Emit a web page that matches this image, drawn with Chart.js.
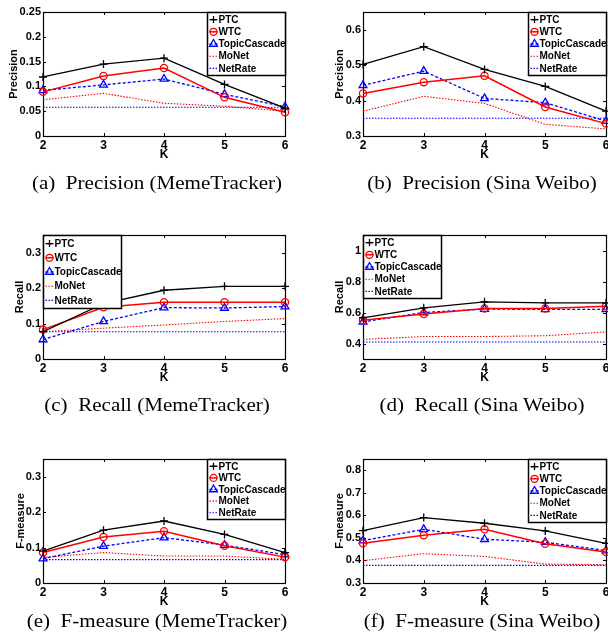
<!DOCTYPE html>
<html>
<head>
<meta charset="utf-8">
<script src="https://cdn.jsdelivr.net/npm/chart.js@4.4.1/dist/chart.umd.min.js"></script>
<style>
  body { margin: 0; background: #fff; width: 608px; height: 642px; position: relative; overflow: hidden; }
  canvas { position: absolute; }
  .cap { position: absolute; width: 300px; text-align: center; white-space: pre;
         font: 18px "Liberation Serif", "Times New Roman", serif; line-height: 20px; color: #000;
         transform: scaleX(1.17); transform-origin: center; }
</style>
</head>
<body>
<canvas id="pa" width="300" height="175" style="left:0;top:0"></canvas>
<canvas id="pb" width="320" height="175" style="left:300px;top:0"></canvas>
<canvas id="pc" width="300" height="175" style="left:0;top:223px"></canvas>
<canvas id="pd" width="320" height="175" style="left:300px;top:223px"></canvas>
<canvas id="pe" width="300" height="175" style="left:0;top:447px"></canvas>
<canvas id="pf" width="320" height="175" style="left:300px;top:447px"></canvas>

<div class="cap" style="left:7px;top:173px">(a)  Precision (MemeTracker)</div>
<div class="cap" style="left:332px;top:173px">(b)  Precision (Sina Weibo)</div>
<div class="cap" style="left:7px;top:395px">(c)  Recall (MemeTracker)</div>
<div class="cap" style="left:332px;top:395px">(d)  Recall (Sina Weibo)</div>
<div class="cap" style="left:7px;top:611px">(e)  F-measure (MemeTracker)</div>
<div class="cap" style="left:332px;top:611px">(f)  F-measure (Sina Weibo)</div>

<script>
const kLabels = ['2', '3', '4', '5', '6'];
const methods = ['PTC', 'WTC', 'TopicCascade', 'MoNet', 'NetRate'];

// rows: PTC, WTC, TopicCascade, MoNet, NetRate
const precisionMeme = [
    [0.119, 0.145, 0.157, 0.104, 0.056],
    [0.089, 0.121, 0.137, 0.078, 0.048],
    [0.092, 0.103, 0.115, 0.084, 0.059],
    [0.073, 0.086, 0.066, 0.060, 0.050],
    [0.058, 0.058, 0.058, 0.058, 0.058]
];
const precisionWeibo = [
    [0.502, 0.552, 0.488, 0.440, 0.370],
    [0.420, 0.452, 0.470, 0.382, 0.335],
    [0.443, 0.483, 0.406, 0.394, 0.342],
    [0.370, 0.412, 0.392, 0.333, 0.320],
    [0.350, 0.350, 0.350, 0.350, 0.350]
];
const recallMeme = [
    [0.077, 0.156, 0.194, 0.205, 0.205],
    [0.083, 0.146, 0.160, 0.160, 0.160],
    [0.055, 0.106, 0.145, 0.144, 0.148],
    [0.077, 0.087, 0.096, 0.106, 0.114],
    [0.077, 0.077, 0.077, 0.077, 0.077]
];
const recallWeibo = [
    [0.566, 0.630, 0.669, 0.662, 0.662],
    [0.550, 0.590, 0.626, 0.626, 0.640],
    [0.540, 0.600, 0.622, 0.620, 0.620],
    [0.426, 0.445, 0.445, 0.450, 0.475],
    [0.410, 0.410, 0.410, 0.410, 0.410]
];
const fMeme = [
    [0.090, 0.149, 0.175, 0.137, 0.086],
    [0.086, 0.130, 0.146, 0.105, 0.073],
    [0.069, 0.104, 0.128, 0.107, 0.080],
    [0.072, 0.086, 0.076, 0.076, 0.067],
    [0.066, 0.066, 0.066, 0.066, 0.066]
];
const fWeibo = [
    [0.532, 0.590, 0.565, 0.531, 0.476],
    [0.476, 0.512, 0.538, 0.474, 0.437],
    [0.488, 0.538, 0.494, 0.481, 0.444],
    [0.399, 0.430, 0.418, 0.384, 0.381],
    [0.378, 0.378, 0.378, 0.378, 0.378]
];

const ticksPrecMeme = [0, 0.05, 0.1, 0.15, 0.2, 0.25];
const ticksPrecWeibo = [0.3, 0.4, 0.5, 0.6];
const ticksRecMeme = [0, 0.1, 0.2, 0.3];
const ticksRecWeibo = [0.4, 0.6, 0.8, 1];
const ticksFMeme = [0, 0.1, 0.2, 0.3];
const ticksFWeibo = [0.3, 0.4, 0.5, 0.6, 0.7, 0.8];

// line looks per method
const looks = [
    { color: '#000000', dash: [], width: 1.3, point: 'cross', r: 4 },
    { color: '#ff0000', dash: [], width: 1.5, point: 'circle', r: 3.6 },
    { color: '#0000ff', dash: [3, 2], width: 1.3, point: 'triangle', r: 4.5 },
    { color: '#ff0000', dash: [1.5, 1.5], width: 1.1, point: false, r: 0 },
    { color: '#0000ff', dash: [1.5, 1.5], width: 1.1, point: false, r: 0 }
];

// box around the plot + inward tick marks, matlab style
const frame = {
    id: 'frame',
    beforeDatasetsDraw(chart) {
        const { ctx, chartArea: a, scales } = chart;
        ctx.save();
        ctx.strokeStyle = '#000';
        ctx.lineWidth = 1;
        ctx.beginPath();
        scales.x.ticks.forEach((t, i) => {
            const x = Math.round(scales.x.getPixelForTick(i)) + 0.5;
            ctx.moveTo(x, a.bottom); ctx.lineTo(x, a.bottom - 3);
            ctx.moveTo(x, a.top); ctx.lineTo(x, a.top + 3);
        });
        scales.y.ticks.forEach(t => {
            const y = Math.round(scales.y.getPixelForValue(t.value)) + 0.5;
            ctx.moveTo(a.left, y); ctx.lineTo(a.left + 3, y);
            ctx.moveTo(a.right, y); ctx.lineTo(a.right - 3, y);
        });
        ctx.stroke();
        ctx.lineWidth = 1.2;
        ctx.strokeRect(Math.round(a.left) + 0.5, Math.round(a.top) + 0.5,
            Math.round(a.right - a.left), Math.round(a.bottom - a.top));
        ctx.restore();
    }
};

function marker(ctx, type, x, y, r) {
    ctx.beginPath();
    if (type === 'cross') {
        ctx.moveTo(x - r, y); ctx.lineTo(x + r, y);
        ctx.moveTo(x, y - r); ctx.lineTo(x, y + r);
    } else if (type === 'circle') {
        ctx.arc(x, y, r, 0, Math.PI * 2);
    } else if (type === 'triangle') {
        ctx.moveTo(x, y - r);
        ctx.lineTo(x + r * 0.87, y + r * 0.5);
        ctx.lineTo(x - r * 0.87, y + r * 0.5);
        ctx.closePath();
    }
    ctx.stroke();
}

const boxLegend = {
    id: 'boxLegend',
    afterDatasetsDraw(chart, args, opts) {
        const { ctx, chartArea: a } = chart;
        const w = 78, h = opts.height;
        const x0 = Math.round(opts.side === 'left' ? a.left : a.right - w) + 0.5;
        const y0 = Math.round(a.top) + 0.5;
        ctx.save();
        ctx.fillStyle = '#fff';
        ctx.fillRect(x0, y0, w, h);
        ctx.strokeStyle = '#000';
        ctx.lineWidth = 1.5;
        ctx.strokeRect(x0, y0, w, h);
        const step = (h - 2) / chart.data.datasets.length;
        ctx.font = 'bold 10px "Liberation Sans", Arial, sans-serif';
        ctx.textBaseline = 'middle';
        chart.data.datasets.forEach((ds, i) => {
            const lk = looks[i];
            const cy = y0 + 1 + step * (i + 0.5);
            ctx.strokeStyle = lk.color;
            ctx.lineWidth = lk.width;
            ctx.setLineDash(lk.dash);
            ctx.beginPath();
            ctx.moveTo(x0 + 2, cy); ctx.lineTo(x0 + 10, cy);
            ctx.stroke();
            ctx.setLineDash([]);
            if (lk.point) {
                ctx.lineWidth = 1.3;
                marker(ctx, lk.point, x0 + 6, cy, lk.point === 'triangle' ? 4.5 : 3.5);
            }
            ctx.fillStyle = '#000';
            ctx.fillText(ds.label, x0 + 11, cy + 0.5);
        });
        ctx.restore();
    }
};

function makePanel(id, rows, yTicks, yMin, yMax, yTitle, padLeft, axisW, padRight, legendSide, legendH) {
    const datasets = rows.map((vals, i) => ({
        label: methods[i],
        data: vals,
        borderColor: looks[i].color,
        borderWidth: looks[i].width,
        borderDash: looks[i].dash,
        pointStyle: looks[i].point,
        pointRadius: looks[i].r,
        pointBorderColor: looks[i].color,
        pointBorderWidth: 1.3,
        pointBackgroundColor: 'rgba(0,0,0,0)',
        tension: 0,
        fill: false
    }));
    return new Chart(document.getElementById(id), {
        type: 'line',
        data: { labels: kLabels, datasets: datasets },
        options: {
            responsive: false,
            animation: false,
            events: [],
            layout: { padding: { top: 12, left: padLeft, right: padRight, bottom: 9 } },
            plugins: {
                legend: { display: false },
                tooltip: { enabled: false },
                boxLegend: { side: legendSide, height: legendH }
            },
            scales: {
                x: {
                    grid: { display: false, drawTicks: false },
                    border: { display: false },
                    ticks: { color: '#000', padding: 2, maxRotation: 0,
                             font: { family: 'Liberation Sans', weight: 'bold', size: 12 } },
                    title: { display: true, text: 'K', color: '#000', padding: { top: 0, bottom: 4 },
                             font: { family: 'Liberation Sans', weight: 'bold', size: 12 } },
                    afterFit: s => { s.height = 30; }
                },
                y: {
                    min: yMin, max: yMax,
                    grid: { display: false, drawTicks: false },
                    border: { display: false },
                    afterBuildTicks: s => { s.ticks = yTicks.map(v => ({ value: v })); },
                    ticks: { color: '#000', padding: 2, callback: v => String(v),
                             font: { family: 'Liberation Sans', weight: 'bold', size: 11 } },
                    title: { display: true, text: yTitle, color: '#000', padding: { top: 4, bottom: 0 },
                             font: { family: 'Liberation Sans', weight: 'bold', size: 11 } },
                    afterFit: s => { s.width = axisW; }
                }
            }
        },
        plugins: [frame, boxLegend]
    });
}

// right-hand canvases are wider than the window so the last "6" gets cut like the original
makePanel('pa', precisionMeme, ticksPrecMeme, 0, 0.25, 'Precision', 3, 40, 15, 'right', 63);
makePanel('pb', precisionWeibo, ticksPrecWeibo, 0.3, 0.65, 'Precision', 29, 34, 14, 'right', 63);
makePanel('pc', recallMeme, ticksRecMeme, 0, 0.35, 'Recall', 9, 34, 15, 'left', 73);
makePanel('pd', recallWeibo, ticksRecWeibo, 0.3, 1.1, 'Recall', 29, 34, 14, 'left', 63);
makePanel('pe', fMeme, ticksFMeme, 0, 0.35, 'F-measure', 10, 33, 15, 'right', 60);
makePanel('pf', fWeibo, ticksFWeibo, 0.3, 0.85, 'F-measure', 29, 34, 14, 'right', 63);
</script>
</body>
</html>
